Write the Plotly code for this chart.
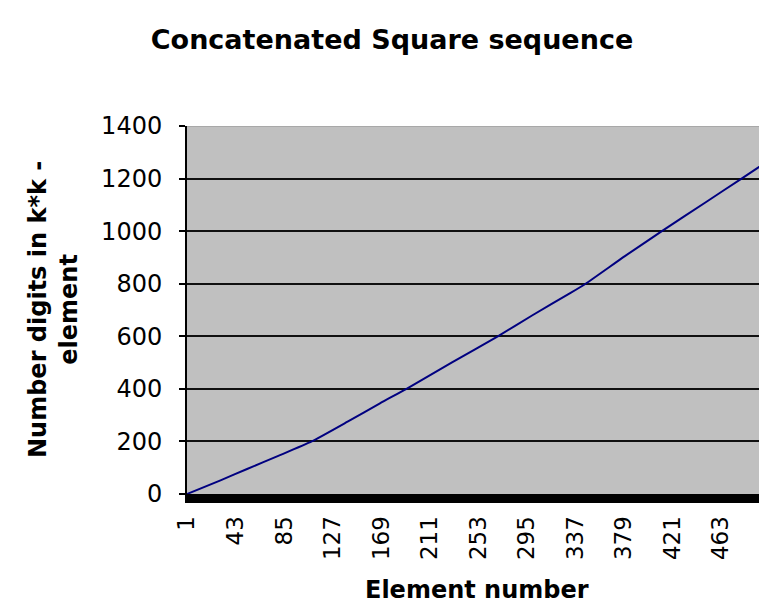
import plotly.graph_objects as go

# element number vs. number of digits
element = [1, 30, 53, 80, 109, 140, 168, 191, 230, 270, 300, 333, 346, 380, 412, 450, 481, 503]
digits = [0, 52, 95, 145, 200, 275, 345, 400, 500, 600, 680, 765, 800, 905, 1000, 1110, 1200, 1264]

x_ticks = [1, 43, 85, 127, 169, 211, 253, 295, 337, 379, 421, 463]
y_ticks = [0, 200, 400, 600, 800, 1000, 1200, 1400]

FONT = "DejaVu Sans"
W, H = 759, 598  # page has an 8px body margin; keep it from scrolling

fig = go.Figure()
fig.add_trace(go.Scatter(
    x=element, y=digits, mode="lines",
    line=dict(color="#000080", width=2, shape="spline", smoothing=0.5),
    showlegend=False, hoverinfo="skip",
))

fig.update_layout(
    width=W, height=H,
    margin=dict(l=179, r=0, t=118, b=H - 118 - 368),
    paper_bgcolor="#ffffff", plot_bgcolor="#c0c0c0",
    font=dict(family=FONT, color="#000000"),
    title=dict(
        text="<b>Concatenated Square sequence</b>",
        font=dict(family=FONT, size=27, color="#000000"),
        x=384 / W, xanchor="center", xref="container",
        y=1 - 32 / H, yanchor="middle", yref="container",
    ),
    xaxis=dict(
        range=[1, 503], tickmode="array", tickvals=x_ticks,
        ticktext=[str(v) for v in x_ticks], tickangle=-90,
        tickfont=dict(family=FONT, size=23), showgrid=False, zeroline=False,
        showline=True, linecolor="#000000", linewidth=9,
        ticks="", ticklabelstandoff=4,
    ),
    yaxis=dict(
        range=[0, 1400], tickmode="array", tickvals=y_ticks,
        tickfont=dict(family=FONT, size=24),
        showgrid=True, gridcolor="#101010", gridwidth=2, zeroline=False,
        showline=True, linecolor="#000000", linewidth=2,
        ticks="outside", ticklen=6, tickcolor="#000000", tickwidth=2,
        ticklabelstandoff=12,
    ),
    shapes=[dict(
        type="line", xref="paper", yref="y", x0=0, x1=1, y0=1400, y1=1400,
        line=dict(color="#a8a8a8", width=2), layer="above",
    )],
    annotations=[
        dict(
            text="<b>Number digits in k*k -</b><br><b>element</b>",
            xref="paper", yref="paper", x=(53 - 187) / 580, y=0.5,
            xanchor="center", yanchor="middle", textangle=-90, showarrow=False,
            font=dict(family=FONT, size=24, color="#000000"),
        ),
        dict(
            text="<b>Element number</b>",
            xref="paper", yref="paper", x=0.5, y=-(590 - 494) / 368,
            xanchor="center", yanchor="middle", showarrow=False,
            font=dict(family=FONT, size=24, color="#000000"),
        ),
    ],
)

fig.write_html("out.html")
